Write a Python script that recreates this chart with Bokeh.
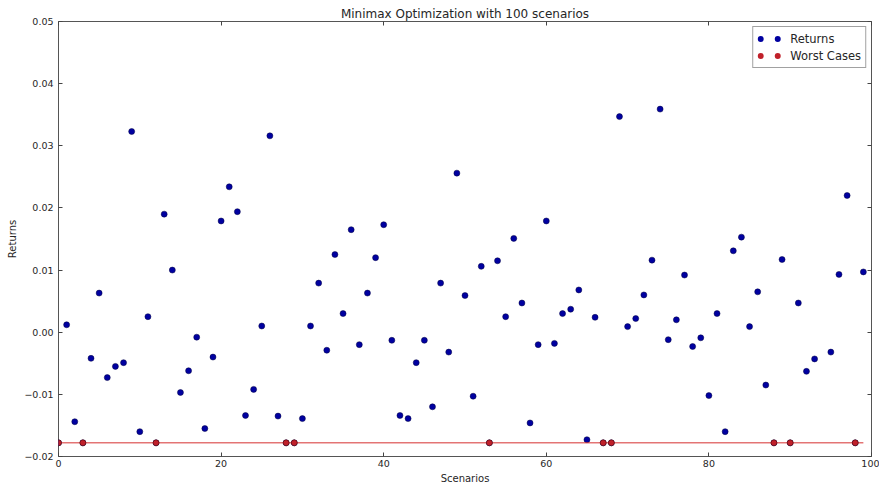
from bokeh.plotting import figure
from bokeh.models import (Range1d, LinearAxis, FixedTicker, CustomJSTickFormatter,
                          ColumnDataSource, Legend, LegendItem)
from bokeh.embed import file_html
from bokeh.resources import INLINE

# Portfolio return in each of the 100 scenarios
returns = [
    -0.0178, 0.0012, -0.0144, -0.0178, -0.0042, 0.0063, -0.0073, -0.0055, -0.0049, 0.0323,
    -0.0160, 0.0025, -0.0178, 0.0190, 0.0100, -0.0097, -0.0062, -0.0008, -0.0155, -0.0040,
    0.0179, 0.0234, 0.0194, -0.0134, -0.0092, 0.0010, 0.0316, -0.0135, -0.0178, -0.0178,
    -0.0139, 0.0010, 0.0079, -0.0029, 0.0125, 0.0030, 0.0165, -0.0020, 0.0063, 0.0120,
    0.0173, -0.0013, -0.0134, -0.0139, -0.0049, -0.0013, -0.0120, 0.0079, -0.0032, 0.0256,
    0.0059, -0.0103, 0.0106, -0.0178, 0.0115, 0.0025, 0.0151, 0.0047, -0.0146, -0.0020,
    0.0179, -0.0018, 0.0030, 0.0037, 0.0068, -0.0173, 0.0024, -0.0178, -0.0178, 0.0347,
    0.0009, 0.0022, 0.0060, 0.0116, 0.0359, -0.0012, 0.0020, 0.0092, -0.0023, -0.0009,
    -0.0102, 0.0030, -0.0160, 0.0131, 0.0153, 0.0009, 0.0065, -0.0085, -0.0178, 0.0117,
    -0.0178, 0.0047, -0.0063, -0.0043, 0.0450, -0.0032, 0.0093, 0.0220, -0.0178, 0.0097,
]
scenarios = list(range(len(returns)))

# Scenarios whose return equals the minimax (worst-case) level
worst_idx = [0, 3, 12, 28, 29, 53, 67, 68, 88, 90, 98]
worst_returns = [returns[i] for i in worst_idx]
worst_level = min(returns)

x_ticks = [0, 20, 40, 60, 80, 100]
y_ticks = [-0.02, -0.01, 0.0, 0.01, 0.02, 0.03, 0.04, 0.05]

FONT = "DejaVu Sans"
TEXT = "#262626"
BLUE = "#0000a0"
RED = "#c0202a"
RED_LINE = "#d63030"

p = figure(width=879, height=488, output_backend="svg", toolbar_location=None,
           x_range=Range1d(0, 100), y_range=Range1d(-0.02, 0.05),
           min_border_left=58, min_border_right=8, min_border_top=21,
           min_border_bottom=32, title="Minimax Optimization with 100 scenarios")

p.title.align = "center"
p.title.text_font = FONT
p.title.text_font_size = "12px"
p.title.text_font_style = "normal"
p.title.text_color = TEXT
p.title.standoff = 2

p.grid.visible = False
p.outline_line_color = "#555555"
p.outline_line_width = 1
p.background_fill_color = "white"
p.border_fill_color = "white"

fmt = CustomJSTickFormatter(code="""
    if (Math.abs(tick) < 1e-9) { return '0.00'; }
    return tick.toFixed(2).replace('-', '\u2212');
""")

def style_axis(ax, label_visible=True):
    ax.axis_line_color = None
    ax.major_tick_in = 4
    ax.major_tick_out = 0
    ax.minor_tick_line_color = None
    ax.major_tick_line_color = "#444444"
    ax.major_label_text_font = FONT
    ax.axis_label_text_font = FONT
    ax.axis_label_text_font_style = "normal"
    ax.axis_label_text_color = TEXT
    ax.axis_label_text_font_size = "10px"
    if label_visible:
        ax.major_label_text_font_size = "9.5px"
        ax.major_label_text_color = TEXT
    else:
        ax.major_label_text_font_size = "1px"
        ax.major_label_text_color = None

xa = p.xaxis[0]
xa.ticker = FixedTicker(ticks=x_ticks)
xa.axis_label = "Scenarios"
style_axis(xa)
xa.major_label_standoff = 3
xa.axis_label_standoff = 3

ya = p.yaxis[0]
ya.ticker = FixedTicker(ticks=y_ticks)
ya.formatter = fmt
ya.axis_label = "Returns"
style_axis(ya)
ya.major_label_standoff = 5
ya.axis_label_standoff = 3

# Tick marks on the top and right edges of the frame, without labels
top = LinearAxis(ticker=FixedTicker(ticks=x_ticks))
style_axis(top, label_visible=False)
top.major_label_standoff = 0
p.add_layout(top, "above")
right = LinearAxis(ticker=FixedTicker(ticks=y_ticks))
style_axis(right, label_visible=False)
right.major_label_standoff = 0
p.add_layout(right, "right")

# Returns per scenario
p.scatter(scenarios, returns, size=6, fill_color=BLUE, line_color="#000040",
          line_width=0.5)

# Worst-case level across all scenarios
p.line([scenarios[0], scenarios[-1]], [worst_level, worst_level],
       line_color=RED_LINE, line_width=1)

# Scenarios attaining the worst case
p.scatter(worst_idx, worst_returns, size=6, fill_color=RED, line_color="#400000",
          line_width=0.5)

# Legend swatches: two dots per entry, drawn as a dotted stroke (no plotted data)
nan = float("nan")
swatch_src = ColumnDataSource(data=dict(x=[nan], y=[nan]))
sw_ret = p.line("x", "y", source=swatch_src, line_color=BLUE, line_width=6,
                line_cap="round", line_dash="0 17", line_dash_offset=14)
sw_worst = p.line("x", "y", source=swatch_src, line_color=RED, line_width=6,
                  line_cap="round", line_dash="0 17", line_dash_offset=14)

legend = Legend(items=[LegendItem(label="Returns", renderers=[sw_ret]),
                       LegendItem(label="Worst Cases", renderers=[sw_worst])],
                location="top_right")
legend.margin = 5
legend.padding = 4
legend.spacing = 2
legend.label_height = 15
legend.glyph_height = 15
legend.glyph_width = 24
legend.label_standoff = 9
legend.label_text_font = FONT
legend.label_text_font_size = "11.5px"
legend.label_text_color = TEXT
legend.border_line_color = "#444444"
legend.border_line_width = 1
legend.background_fill_alpha = 1.0
p.add_layout(legend, "center")

open("out.html", "w").write(file_html(p, INLINE))
